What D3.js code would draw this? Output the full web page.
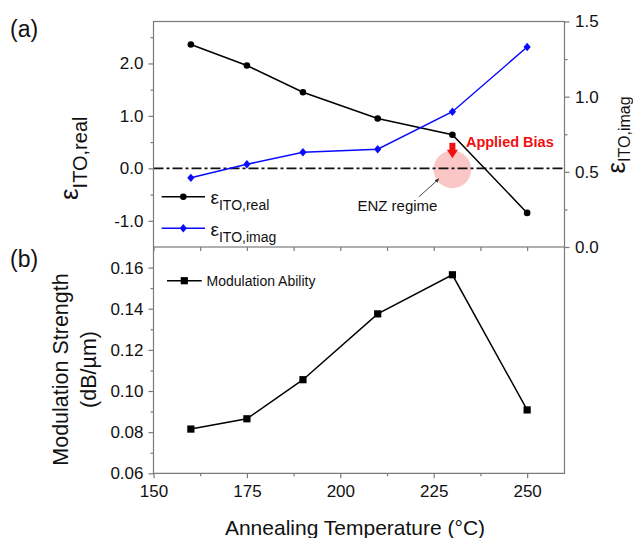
<!DOCTYPE html>
<html>
<head>
<meta charset="utf-8">
<script src="https://cdn.jsdelivr.net/npm/d3@7"></script>
<style>
  html, body { margin: 0; padding: 0; background: #fff; }
  svg { display: block; font-family: "Liberation Sans", Arial, sans-serif; }
</style>
</head>
<body>
<svg id="chart" width="633" height="538"></svg>
<script>
// Annealing temperature (°C) of each ITO film
const temps = [160, 175, 190, 210, 230, 250];
// Real part of ITO permittivity (left axis, panel a)
const epsReal = [2.36, 1.96, 1.45, 0.95, 0.64, -0.85];
// Imaginary part of ITO permittivity (right axis, panel a)
const epsImag = [0.46, 0.55, 0.63, 0.65, 0.90, 1.33];
// Modulation strength in dB/µm (panel b)
const modStrength = [0.0815, 0.0865, 0.1055, 0.1375, 0.1565, 0.0908];

// Tick values
const xTicks = [150, 175, 200, 225, 250];
const xMinorTicks = [162.5, 187.5, 212.5, 237.5];
const realTicks = [-1, 0, 1, 2];
const realMinorTicks = [-0.5, 0.5, 1.5, 2.5];
const imagTicks = [0, 0.5, 1.0, 1.5];
const imagMinorTicks = [0.25, 0.75, 1.25];
const modTicks = [0.06, 0.08, 0.10, 0.12, 0.14, 0.16];
const modMinorTicks = [0.07, 0.09, 0.11, 0.13, 0.15];

const svg = d3.select("#chart");
const AX = "#7a7a7a";
const FS = 17;

const left = 153.5, right = 564.5;
const topA = 21.5, botA = 247, botB = 473.3;

const x = d3.scaleLinear().domain([150, 260]).range([left, right]);
const yReal = d3.scaleLinear().domain([-1.5, 2.8]).range([botA, topA]);
const yImag = d3.scaleLinear().domain([0, 1.5]).range([botA, topA]);
const yMod = d3.scaleLinear().domain([0.06, 0.17]).range([botB, botA]);

function styleAxis(g) {
  g.select(".domain").remove();
  g.selectAll(".tick line").attr("stroke", AX).attr("stroke-width", 1.2);
  g.selectAll(".tick text").attr("fill", "#111").attr("font-size", FS)
    .attr("font-family", "Liberation Sans, Arial, sans-serif");
}

function addAxis(axisFn, scale, major, minor, fmt, transform, pad) {
  svg.append("g").attr("transform", transform)
    .call(axisFn(scale).tickValues(minor).tickSize(3).tickFormat(""))
    .call(styleAxis);
  svg.append("g").attr("transform", transform)
    .call(axisFn(scale).tickValues(major).tickSize(5).tickPadding(pad).tickFormat(fmt))
    .call(styleAxis);
}

const f1 = d => d.toFixed(1);
const f2 = d => d.toFixed(2);

// ----- panel (a) -----
// ENZ highlight behind the zero line
const enzX = x(230), enzY = yReal(0);
svg.append("circle").attr("cx", enzX).attr("cy", enzY + 1).attr("r", 18.8)
  .attr("fill", "#fbc6c6");

// zero-crossing reference line
svg.append("line")
  .attr("x1", left).attr("x2", right).attr("y1", yReal(0)).attr("y2", yReal(0))
  .attr("stroke", "#111").attr("stroke-width", 1.8)
  .attr("stroke-dasharray", "10 3 3 3");

addAxis(d3.axisLeft, yReal, realTicks, realMinorTicks, f1, `translate(${left},0)`, 5);
addAxis(d3.axisRight, yImag, imagTicks, imagMinorTicks, f1, `translate(${right},0)`, 5.5);
addAxis(d3.axisBottom, x, xTicks, xMinorTicks, "", `translate(0,${botA})`, 0);
svg.selectAll("g").filter(function () {
  return this.getAttribute("transform") === `translate(0,${botA})`;
}).selectAll(".tick line").attr("y2", 4);

// frame of panel (a)
svg.append("rect").attr("x", left).attr("y", topA)
  .attr("width", right - left).attr("height", botA - topA)
  .attr("fill", "none").attr("stroke", AX).attr("stroke-width", 1.2);

// real part series
const lineReal = d3.line().x((d, i) => x(temps[i])).y(d => yReal(d));
svg.append("path").datum(epsReal).attr("d", lineReal)
  .attr("fill", "none").attr("stroke", "#000").attr("stroke-width", 1.5);
svg.selectAll(".ptReal").data(epsReal).enter().append("circle")
  .attr("cx", (d, i) => x(temps[i])).attr("cy", d => yReal(d)).attr("r", 3.3)
  .attr("fill", "#000");

// imaginary part series
const BLUE = "#0a0aff";
const diamond = "M0,-4.2L3.6,0L0,4.2L-3.6,0Z";
const lineImag = d3.line().x((d, i) => x(temps[i])).y(d => yImag(d));
svg.append("path").datum(epsImag).attr("d", lineImag)
  .attr("fill", "none").attr("stroke", BLUE).attr("stroke-width", 1.5);
svg.selectAll(".ptImag").data(epsImag).enter().append("path")
  .attr("d", diamond)
  .attr("transform", (d, i) => `translate(${x(temps[i])},${yImag(d)})`)
  .attr("fill", BLUE);

// applied-bias arrow above the ENZ spot
const arrowTop = enzY - 25.5;
svg.append("rect").attr("x", enzX - 3).attr("y", arrowTop).attr("width", 6).attr("height", 8)
  .attr("fill", "#f01010");
svg.append("path")
  .attr("d", `M${enzX - 5.5},${arrowTop + 7}L${enzX + 5.5},${arrowTop + 7}L${enzX},${arrowTop + 15.5}Z`)
  .attr("fill", "#f01010");
svg.append("text").attr("x", enzX + 13.5).attr("y", arrowTop + 4.3)
  .attr("font-size", 14.5).attr("font-weight", "bold").attr("fill", "#f01010")
  .text("Applied Bias");

// ENZ label with pointer
svg.append("defs").append("marker").attr("id", "tip")
  .attr("viewBox", "0 0 10 10").attr("refX", 9).attr("refY", 5)
  .attr("markerWidth", 5).attr("markerHeight", 5).attr("orient", "auto")
  .append("path").attr("d", "M0,1L10,5L0,9Z").attr("fill", "#333");
svg.append("line")
  .attr("x1", enzX - 33.5).attr("y1", enzY + 28.5)
  .attr("x2", enzX - 13.5).attr("y2", enzY + 10.5)
  .attr("stroke", "#333").attr("stroke-width", 0.9).attr("marker-end", "url(#tip)");
svg.append("text").attr("x", enzX - 95).attr("y", enzY + 42.5)
  .attr("font-size", 15).attr("fill", "#111").text("ENZ regime");

// legend of panel (a)
function epsLabel(g, xp, yp, sub, bigSize, subSize, dy, color) {
  const t = g.append("text").attr("x", xp).attr("y", yp).attr("fill", color || "#111");
  t.append("tspan").attr("font-size", bigSize).text("ε");
  t.append("tspan").attr("font-size", subSize).attr("dy", dy).text(sub);
  return t;
}
svg.append("line").attr("x1", 161.7).attr("x2", 205).attr("y1", 196.7).attr("y2", 196.7)
  .attr("stroke", "#000").attr("stroke-width", 1.5);
svg.append("circle").attr("cx", 183.3).attr("cy", 196.7).attr("r", 3.3).attr("fill", "#000");
epsLabel(svg, 210.5, 204, "ITO,real", 19, 14, 6);

svg.append("line").attr("x1", 161.7).attr("x2", 205).attr("y1", 228.3).attr("y2", 228.3)
  .attr("stroke", BLUE).attr("stroke-width", 1.5);
svg.append("path").attr("d", diamond).attr("transform", "translate(183.3,228.3)").attr("fill", BLUE);
epsLabel(svg, 210.5, 235.5, "ITO,imag", 19, 14, 6.5);

// axis titles of panel (a)
epsLabel(svg.append("g").attr("transform", "translate(78,200) rotate(-90)"),
  0, 0, "ITO,real", 26, 20, 8.5);
epsLabel(svg.append("g").attr("transform", "translate(625,173.5) rotate(-90)"),
  0, 0, "ITO,imag", 26, 16, 5);

svg.append("text").attr("x", 10).attr("y", 37).attr("font-size", 23).attr("fill", "#111").text("(a)");

// ----- panel (b) -----
addAxis(d3.axisLeft, yMod, modTicks, modMinorTicks, f2, `translate(${left},0)`, 5);
addAxis(d3.axisBottom, x, xTicks, xMinorTicks, d => d, `translate(0,${botB})`, 7);

svg.append("path")
  .attr("d", `M${left},${botA}L${left},${botB}L${right},${botB}L${right},${botA}`)
  .attr("fill", "none").attr("stroke", AX).attr("stroke-width", 1.2);

const lineMod = d3.line().x((d, i) => x(temps[i])).y(d => yMod(d));
svg.append("path").datum(modStrength).attr("d", lineMod)
  .attr("fill", "none").attr("stroke", "#000").attr("stroke-width", 1.5);
svg.selectAll(".ptMod").data(modStrength).enter().append("rect")
  .attr("x", (d, i) => x(temps[i]) - 3.6).attr("y", d => yMod(d) - 3.6)
  .attr("width", 7.2).attr("height", 7.2).attr("fill", "#000");

// legend of panel (b)
svg.append("line").attr("x1", 167).attr("x2", 201.7).attr("y1", 280.7).attr("y2", 280.7)
  .attr("stroke", "#000").attr("stroke-width", 1.5);
svg.append("rect").attr("x", 184.3 - 3.6).attr("y", 280.7 - 3.6).attr("width", 7.2).attr("height", 7.2)
  .attr("fill", "#000");
svg.append("text").attr("x", 206.5).attr("y", 286).attr("font-size", 14).attr("fill", "#111")
  .text("Modulation Ability");

// axis titles of panel (b)
const yt = svg.append("text").attr("transform", "translate(0,369.5) rotate(-90)")
  .attr("text-anchor", "middle").attr("font-size", 21.5).attr("fill", "#111");
yt.append("tspan").attr("x", 0).attr("y", 67.5).text("Modulation Strength");
yt.append("tspan").attr("x", 0).attr("y", 96).text("(dB/µm)");

svg.append("text").attr("x", (left + right) / 2 - 4).attr("y", 535)
  .attr("text-anchor", "middle").attr("font-size", 21).attr("fill", "#111")
  .text("Annealing Temperature (°C)");

svg.append("text").attr("x", 10).attr("y", 267).attr("font-size", 23).attr("fill", "#111").text("(b)");
</script>
</body>
</html>
